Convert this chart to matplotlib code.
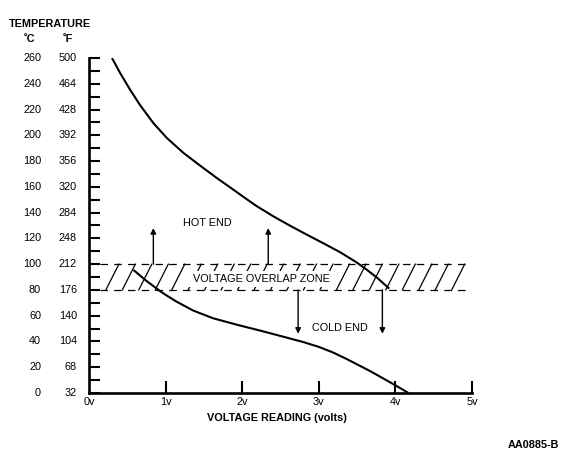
import numpy as np
import matplotlib
matplotlib.use("Agg")
import matplotlib.pyplot as plt
from matplotlib import transforms

plt.rcParams['font.family'] = ['Liberation Sans', 'DejaVu Sans']

# ---- data ----
hot_v = [0.30, 0.405, 0.535, 0.666, 0.84, 1.015, 1.23, 1.45, 1.67, 1.88, 2.05, 2.19, 2.41,
         2.62, 2.84, 3.06, 3.28, 3.49, 3.63, 3.76, 3.92]
hot_t = [260, 248.5, 235.5, 223.5, 209.5, 198, 186.5, 176.5, 166.8, 158, 150.8, 145, 137,
         130, 123, 116.2, 109.2, 101.5, 95.5, 89.5, 81]
cold_v = [0.58, 0.75, 0.93, 1.0, 1.14, 1.36, 1.62, 1.93, 2.23, 2.58, 2.80, 3.0, 3.18, 3.36, 3.67, 4.0, 4.17]
cold_t = [95.5, 87, 79, 76.2, 71, 64, 58, 53, 48.5, 43, 39.5, 35.8, 31.6, 26.5, 17, 6, 0]
zone_low, zone_high = 80, 100
zone_v = [0.15, 4.95]
up_arrow_v = [0.84, 2.34]
up_arrow_tip = 128
down_arrow_v = [2.73, 3.83]
down_arrow_tip = 46
c_labels = [0, 20, 40, 60, 80, 100, 120, 140, 160, 180, 200, 220, 240, 260]
f_labels = [32, 68, 104, 140, 176, 212, 248, 284, 320, 356, 392, 428, 464, 500]
x_ticks = [0, 1, 2, 3, 4, 5]
x_labels = ['0v', '1v', '2v', '3v', '4v', '5v']

W, H = 574, 459
fig = plt.figure(figsize=(W / 100, H / 100), dpi=100)
left_px, right_px, top_px, bot_px = 89, 472, 58, 393
ax = fig.add_axes([left_px / W, 1 - bot_px / H, (right_px - left_px) / W, (bot_px - top_px) / H])
ax.set_xlim(0, 5)
ax.set_ylim(0, 260)
for s in ['top', 'right']:
    ax.spines[s].set_visible(False)
for s in ['left', 'bottom']:
    ax.spines[s].set_linewidth(1.9)
ax.spines['left'].set_capstyle('projecting')

ax.set_yticks(np.arange(0, 261, 10))
ax.set_xticks(x_ticks[1:])
ax.tick_params(axis='y', direction='in', length=8, width=1.5, labelleft=False)
ax.tick_params(axis='x', direction='in', length=9, width=1.5, labelbottom=False)

fs = 7.8
def px_to_axes_x(px):
    return (px - left_px) / (right_px - left_px)
trans_y = transforms.blended_transform_factory(ax.transAxes, ax.transData)
for c, f in zip(c_labels, f_labels):
    ax.text(px_to_axes_x(41), c, str(c), transform=trans_y, ha='right', va='center', fontsize=fs, clip_on=False)
    ax.text(px_to_axes_x(77), c, str(f), transform=trans_y, ha='right', va='center', fontsize=fs, clip_on=False)

trans_x = transforms.blended_transform_factory(ax.transData, ax.transAxes)
for v, lab in zip(x_ticks, x_labels):
    ax.text(v, -9 / (bot_px - top_px), lab, transform=trans_x, ha='center', va='center', fontsize=fs, clip_on=False)

fig.text(277 / W, 1 - 418 / H, 'VOLTAGE READING (volts)', ha='center', va='center', fontsize=fs, fontweight='bold')
fig.text(50 / W, 1 - 24 / H, 'TEMPERATURE', ha='center', va='center', fontsize=fs, fontweight='bold')
fig.text(29 / W, 1 - 39 / H, '˚C', ha='center', va='center', fontsize=fs, fontweight='bold')
fig.text(68 / W, 1 - 39 / H, '˚F', ha='center', va='center', fontsize=fs, fontweight='bold')
fig.text(533 / W, 1 - 445 / H, 'AA0885-B', ha='center', va='center', fontsize=fs, fontweight='bold')

# overlap zone
ax.plot(zone_v, [zone_high, zone_high], color='black', lw=0.9, ls=(0, (6, 5)))
ax.plot(zone_v, [zone_low, zone_low], color='black', lw=0.9, ls=(0, (6, 5)))
slant = 0.17
spacing = 0.215
for xb in np.arange(zone_v[0] + 0.07, zone_v[1] - slant, spacing):
    ax.plot([xb, xb + slant], [zone_low, zone_high], color='black', lw=0.9)

ax.text(2.25, 88.5, 'VOLTAGE OVERLAP ZONE', ha='center', va='center', fontsize=fs,
        bbox=dict(facecolor='white', edgecolor='none', pad=2.5), zorder=3)

# curves
ax.plot(hot_v, hot_t, color='black', lw=1.5, zorder=4, solid_capstyle='butt', solid_joinstyle='round')
ax.plot(cold_v, cold_t, color='black', lw=1.5, zorder=4, solid_capstyle='butt', solid_joinstyle='round')

# arrows
ap = dict(arrowstyle='-|>', lw=1.0, color='black', mutation_scale=8, shrinkA=0, shrinkB=0)
for v in up_arrow_v:
    ax.annotate('', xy=(v, up_arrow_tip), xytext=(v, zone_high), arrowprops=ap, zorder=5)
for v in down_arrow_v:
    ax.annotate('', xy=(v, down_arrow_tip), xytext=(v, zone_low), arrowprops=ap, zorder=5)

ax.text(1.54, 132, 'HOT END', ha='center', va='center', fontsize=fs)
ax.text(3.28, 50.4, 'COLD END', ha='center', va='center', fontsize=fs)

fig.savefig('out.png', dpi=100)
